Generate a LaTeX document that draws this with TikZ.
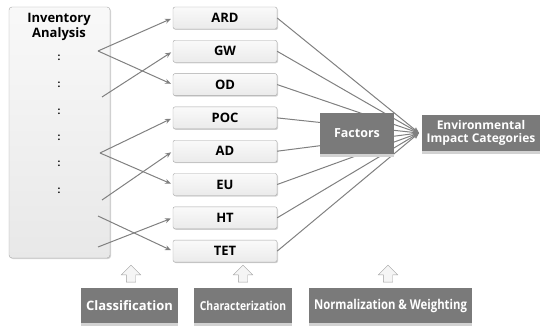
\documentclass[tikz,border=0pt]{standalone}
\usepackage{fontspec}
\setmainfont{Open Sans}
\newfontfamily\narrowfont[FakeStretch=0.84]{Open Sans}
\usepackage{tikz}
\usetikzlibrary{arrows.meta,positioning,shapes.arrows,shadows}

\begin{document}
\begin{tikzpicture}[
    x=1pt, y=-1pt,
    cat/.style={rectangle, draw=gray!70, rounded corners=2pt, top color=gray!4, bottom color=gray!16,
        minimum width=104pt, minimum height=22pt, inner sep=0pt, font=\fontsize{13}{14}\selectfont\bfseries,
        drop shadow={shadow xshift=1pt, shadow yshift=-1pt, opacity=0.35}},
    dark/.style={rectangle, fill=black!52, text=white, inner sep=0pt, align=center,
        drop shadow={shadow xshift=0pt, shadow yshift=-3pt, fill=gray!35, opacity=1}},
    uparrow/.style={single arrow, draw=gray!75, fill=gray!8, shape border rotate=90, inner sep=4.5pt,
        minimum height=17pt, single arrow head extend=5pt},
    line/.style={draw=gray, line width=1pt, -{Stealth[length=6pt, width=5pt]}, shorten >=2pt}
]
    \useasboundingbox (0,0) rectangle (560,329);

    % inventory
    \node[rectangle, draw=gray!70, rounded corners=3pt, top color=gray!5, bottom color=gray!18,
        minimum width=101pt, minimum height=251pt, drop shadow={shadow xshift=1pt, shadow yshift=-1pt, opacity=0.35}]
        (inv) at (59.5,132.5) {};
    \node[font=\fontsize{13}{15}\selectfont\bfseries, align=center, anchor=north, inner sep=0pt] (invlab) at (59,13) {Inventory\\Analysis};
    \foreach \y [count=\i] in {58,85,112,138,164,191}
        \node[font=\bfseries] (dot\i) at (59,\y) {:};

    % categories
    \foreach \name/\lab [count=\i] in {ard/ARD,gw/GW,od/OD,poc/POC,ad/AD,eu/EU,ht/HT,tet/TET}
        \node[cat] (\name) at (225,{18+33.3*(\i-1)}) {\lab};

    \coordinate (sa) at (98,51);
    \coordinate (sb) at (102,97);
    \coordinate (sc) at (100,153);
    \coordinate (sd) at (102,200);
    \coordinate (se) at (98,216);
    \coordinate (sf) at (98,247);

    \draw[line] (sa) -- (ard.west);
    \draw[line] (sa) -- (od.west);
    \draw[line] (sb) -- (gw.west);
    \draw[line] (sc) -- (poc.west);
    \draw[line] (sc) -- (eu.west);
    \draw[line] (sd) -- (ad.west);
    \draw[line] (se) -- (tet.west);
    \draw[line] (sf) -- (ht.west);

    % factors
    \coordinate (tip) at (419,133);
    \foreach \name in {ard,gw,od,poc,ad,eu,ht,tet}
        \draw[line, shorten >=0pt] (\name.east) -- (tip);

    \node[dark, minimum width=74pt, minimum height=41pt, font=\fontsize{12.5}{13}\selectfont\bfseries] (fac) at (357,133.5) {Factors};
    \node[dark, minimum width=118pt, minimum height=36pt, font=\fontsize{12}{13.5}\selectfont\bfseries] (env) at (481,133) {Environmental\\Impact Categories};

    % steps
    \node[dark, minimum width=97pt, minimum height=35pt, font=\fontsize{13}{14}\selectfont\bfseries] (cls) at (129.5,305.5) {Classification};
    \node[dark, minimum width=98pt, minimum height=35pt, font=\fontsize{12.3}{14}\selectfont\narrowfont\bfseries] (chr) at (243,305.5) {Characterization};
    \node[dark, minimum width=163pt, minimum height=35pt, font=\fontsize{13.5}{14}\selectfont\narrowfont\bfseries] (nrm) at (390.5,305.5) {Normalization \& Weighting};

    \node[uparrow] (up1) at (131,276) {};
    \node[uparrow] (up2) at (243,276) {};
    \node[uparrow] (up3) at (388,276) {};
\end{tikzpicture}
\end{document}
